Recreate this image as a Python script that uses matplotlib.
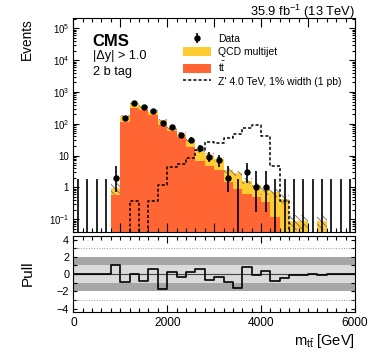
import math
import numpy as np
import matplotlib
matplotlib.use('Agg')
import matplotlib.pyplot as plt
from matplotlib.patches import Patch
from matplotlib.lines import Line2D
from matplotlib.ticker import MultipleLocator, LogLocator, FuncFormatter, NullFormatter

plt.rcParams['font.family'] = ['Liberation Sans', 'DejaVu Sans']
plt.rcParams['mathtext.fontset'] = 'custom'
plt.rcParams['mathtext.rm'] = 'Liberation Sans'
plt.rcParams['mathtext.it'] = 'Liberation Sans:italic'
plt.rcParams['mathtext.bf'] = 'Liberation Sans:bold'
plt.rcParams['hatch.linewidth'] = 0.65

# 200 GeV bins from 0 to 6000 GeV
edges = np.arange(0, 6001, 200)
centers = edges[:-1] + 100

data = [0, 0, 0, 0, 2, 155, 455, 335, 251, 108, 77, 45, 31, 17, 9,
        7, 2, 0, 3, 1, 1, 0, 0, 0, 0, 0, 0, 0, 0, 0]
ttbar = [0, 0, 0, 0, 0.58, 113, 322, 265, 194, 94, 59, 38, 19, 6.8, 4.7,
         3.5, 1.45, 0.9, 0.6, 0.5, 0.34, 0.12, 0, 0, 0, 0, 0, 0, 0, 0]
qcd = [0, 0, 0, 0, 0.37, 57, 133, 85, 48, 33, 16, 9.5, 11, 7.2, 5.8,
       4.3, 2.05, 1.9, 1.0, 0.65, 0.46, 0.58, 0.44, 0.09, 0.09, 0, 0.09, 0, 0, 0]
bkg_unc = [0, 0, 0, 0, 0.4, 0.1, 0.1, 0.1, 0.1, 0.12, 0.12, 0.12, 0.12, 0.15, 0.15,
           0.15, 0.2, 0.2, 0.2, 0.3, 0.3, 0.3, 0.3, 0.5, 0.5, 0, 0.5, 0, 0, 0]
zprime = [0, 0, 0, 0, 0, 0, 0.38, 0, 0.38, 1.2, 4.5, 5.6, 8.3, 15, 26.5,
          24, 35, 48, 75, 92, 42, 4.7, 0.37, 0, 0, 0, 0, 0, 0, 0]
pull = [0, 0, 0, 0, 1.0, -0.9, 0.0, -0.8, 0.55, -1.7, 0.27, -0.35, 0.2, 0.62, -0.66,
        -0.31, -0.97, -1.67, 0.81, -0.08, 0.31, -0.81, -0.47, -0.12, -0.1, -0.02, -0.1, 0, 0, 0]
pull_ticks = [-4, -2, 0, 2, 4]

col_tt = '#ff6633'
col_qcd = '#ffcc33'
floor = 1e-4


def poisson_cdf(k, mu):
    return sum(math.exp(-mu + i * math.log(mu) - math.lgamma(i + 1)) for i in range(k + 1))


def bisect(f, lo, hi):
    for _ in range(80):
        mid = 0.5 * (lo + hi)
        if f(mid) > 0:
            lo = mid
        else:
            hi = mid
    return 0.5 * (lo + hi)


def garwood(n):
    a = 0.5 * (1 - 0.682689)
    up = bisect(lambda mu: poisson_cdf(n, mu) - a, 1e-9, n + 30 + 6 * math.sqrt(n))
    if n == 0:
        return 0.0, up
    lo = bisect(lambda mu: poisson_cdf(n - 1, mu) - (1 - a), 1e-9, n + 30)
    return lo, up


def ext(v):
    v = np.asarray(v, dtype=float)
    v = np.where(v > 0, v, floor)
    return np.append(v, v[-1])


fig = plt.figure(figsize=(3.78, 3.55), dpi=100)
ax = fig.add_axes([0.194, 0.346, 0.745, 0.602])
ax2 = fig.add_axes([0.194, 0.121, 0.745, 0.214])

total = np.array(ttbar) + np.array(qcd)
unc = np.array(bkg_unc)

ax.fill_between(edges, ext(total), floor, step='post', color=col_qcd, lw=0)
ax.fill_between(edges, ext(ttbar), floor, step='post', color=col_tt, lw=0)
ax.fill_between(edges, ext(total * (1 - unc)), ext(total * (1 + unc)), step='post',
                facecolor='none', edgecolor='#777777', hatch='\\\\\\\\\\', lw=0)
ax.step(edges, ext(zprime), where='post', color='black', lw=1.1, ls=(0, (2, 1.4)))

n = np.array(data)
lo_err, hi_err = [], []
for k in data:
    l, u = garwood(k)
    lo_err.append(k - l)
    hi_err.append(u - k)
lo_err = np.array(lo_err)
hi_err = np.array(hi_err)
nz = n > 0
eb = ax.errorbar(centers[nz], n[nz], yerr=[lo_err[nz], hi_err[nz]], fmt='o', ms=3.6,
                 color='black', elinewidth=1.2, capsize=0)
ax.vlines(centers[~nz], floor, hi_err[~nz], color='black', lw=1.2)

ax.set_yscale('log')
ax.set_xlim(0, 6000)
ax.set_ylim(0.039, 2.05e5)
ax.xaxis.set_major_locator(MultipleLocator(1000))
ax.xaxis.set_minor_locator(MultipleLocator(200))
ax.yaxis.set_major_locator(LogLocator(base=10, numticks=20))
ax.yaxis.set_minor_locator(LogLocator(base=10, subs=np.arange(2, 10), numticks=20))
ax.yaxis.set_minor_formatter(NullFormatter())


def log_fmt(v, pos):
    e = int(round(math.log10(v)))
    if e == 0:
        return '1'
    if e == 1:
        return '10'
    return '$10^{%d}$' % e


ax.yaxis.set_major_formatter(FuncFormatter(log_fmt))
ax.tick_params(axis='both', which='both', direction='in', top=True, right=True, width=0.8,
               labelbottom=False)
ax.tick_params(axis='y', which='minor', labelleft=False)
ax.tick_params(axis='x', which='major', length=6.5)
ax.tick_params(axis='x', which='minor', length=3)
ax.tick_params(axis='y', which='major', length=4.5, labelsize=7, pad=3)
ax.tick_params(axis='y', which='minor', length=2.2)
ax.set_ylabel('Events', fontsize=9.8, loc='top', va='center')
ax.yaxis.set_label_coords(-0.164, 1.0)

handles = [eb, Patch(facecolor=col_qcd, lw=0), Patch(facecolor=col_tt, lw=0),
           Line2D([], [], color='black', lw=1.1, ls=(0, (2, 1.4)))]
labels = ['Data', 'QCD multijet', r'$\mathrm{t\bar{t}}$', "Z' 4.0 TeV, 1% width (1 pb)"]
ax.legend(handles, labels, loc='upper left', bbox_to_anchor=(0.388, 0.927), frameon=False,
          fontsize=7.5, handlelength=2.7, handleheight=1.0, handletextpad=0.7,
          labelspacing=0.25, borderpad=0, borderaxespad=0)

ax.text(0.069, 0.891, 'CMS', transform=ax.transAxes, fontsize=12, fontweight='bold',
        va='center', ha='left')
ax.text(0.069, 0.824, '|Δy| > 1.0', transform=ax.transAxes, fontsize=9.2, va='center', ha='left')
ax.text(0.069, 0.750, '2 b tag', transform=ax.transAxes, fontsize=9.2, va='center', ha='left')
ax.text(1.0, 1.0 + 6.8 / 213.8, r'35.9 fb$^{-1}$ (13 TeV)', transform=ax.transAxes,
        fontsize=9.3, ha='right', va='center')

# pull panel
ax2.axhspan(-2, 2, color='#a6a6a6', lw=0)
ax2.axhspan(-1, 1, color='#dadada', lw=0)
for yv in (3, -3):
    ax2.axhline(yv, color='#999999', lw=0.7, ls=':')
ax2.axhline(0, color='#444444', lw=0.8)
ax2.step(edges, np.append(pull, pull[-1]), where='post', color='black', lw=1.2)
ax2.set_xlim(0, 6000)
ax2.set_ylim(-4.4, 4.4)
ax2.xaxis.set_major_locator(MultipleLocator(2000))
ax2.xaxis.set_minor_locator(MultipleLocator(200))
ax2.set_yticks(pull_ticks)
ax2.set_yticklabels([str(t).replace('-', '\u2212') for t in pull_ticks])
ax2.yaxis.set_minor_locator(MultipleLocator(1))
ax2.tick_params(axis='both', which='both', direction='in', top=True, right=True, width=0.8)
ax2.tick_params(axis='both', which='minor', labelleft=False, labelbottom=False)
ax2.tick_params(axis='x', which='major', length=5, labelsize=8.6, pad=3.5)
ax2.tick_params(axis='x', which='minor', length=2.7)
ax2.tick_params(axis='y', which='major', length=2.7, labelsize=7.8, pad=3)
ax2.tick_params(axis='y', which='minor', length=2.7)
ax2.set_ylabel('Pull', fontsize=11, va='center')
ax2.yaxis.set_label_coords(-0.161, 0.517)
ax2.set_xlabel(r'm$_{\mathrm{t\bar{t}}}$ [GeV]', fontsize=10.5, loc='right', va='baseline')
ax2.xaxis.set_label_coords(1.0, -0.428)

fig.savefig('out.png', dpi=100)
